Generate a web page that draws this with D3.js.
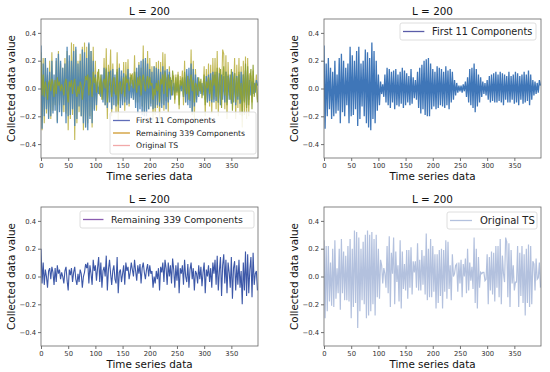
<!DOCTYPE html>
<html><head><meta charset="utf-8">
<script src="https://cdn.jsdelivr.net/npm/d3@7"></script>
<style>
html,body{margin:0;padding:0;background:#fff;}
svg{display:block;font-family:"DejaVu Sans",sans-serif;}
</style></head>
<body><svg id="c" width="550" height="372"></svg>
<script>
// ---- data (sampled every 2 time steps, t = 0..398) ----
const timePoints = d3.range(0, 400, 2);
const xTicks = [0, 50, 100, 150, 200, 250, 300, 350];
const yTicks = [-0.4, -0.2, 0.0, 0.2, 0.4];
const titleText = "L = 200";
const seriesNames = ["First 11 Components", "Remaining 339 Components", "Original TS"];

const first11 = [
 0.31,-0.29,0.18,-0.2,0.22,-0.15,
 0.15,-0.22,0.12,-0.2,0.2,-0.18,0.1,-0.16,0.22,-0.25,
 0.25,-0.17,0.2,-0.2,0.15,-0.12,0.18,-0.25,0.3,-0.2,
 0.24,-0.19,0.2,-0.15,0.27,-0.27,0.3,-0.22,0.18,-0.13,
 0.2,-0.2,0.28,-0.25,0.26,-0.28,0.22,-0.3,0.33,-0.22,
 0.27,-0.25,0.2,-0.16,0.1,-0.12,0.05,-0.04,0.03,-0.06,
 0.1,-0.1,0.15,-0.12,0.14,-0.14,0.12,-0.1,0.13,-0.15,
 0.14,-0.12,0.1,-0.13,0.12,-0.11,0.15,-0.14,0.13,-0.12,
 0.11,-0.1,0.09,-0.12,0.14,-0.11,0.08,-0.07,0.06,-0.08,
 0.12,-0.14,0.15,-0.18,0.17,-0.15,0.2,-0.19,0.21,-0.2,
 0.22,-0.2,0.18,-0.15,0.14,-0.13,0.12,-0.15,0.16,-0.14,
 0.15,-0.12,0.14,-0.13,0.12,-0.14,0.16,-0.12,0.13,-0.15,
 0.14,-0.1,0.12,-0.08,0.06,-0.05,0.04,-0.03,0.02,-0.02,
 0.02,-0.03,0.03,-0.02,0.05,-0.06,0.08,-0.1,0.14,-0.12,
 0.15,-0.14,0.18,-0.17,0.14,-0.13,0.1,-0.1,0.08,-0.06,
 0.05,-0.04,0.04,-0.05,0.06,-0.08,0.09,-0.1,0.1,-0.09,
 0.11,-0.1,0.12,-0.1,0.1,-0.09,0.12,-0.1,0.11,-0.12,
 0.1,-0.08,0.09,-0.1,0.12,-0.1,0.09,-0.08,0.1,-0.11,
 0.12,-0.1,0.11,-0.12,0.09,-0.08,0.1,-0.11,0.12,-0.1,
 0.1,-0.09,0.13,-0.12,0.1,-0.08,0.06,-0.05,0.05,-0.04,
 0.04,-0.03,0.06,0.02
];

const remaining339 = [
 0.2,-0.05,0.1,-0.06,0.05,0.0,-0.08,0.04,0.06,-0.02,
 0.07,0.03,-0.06,0.06,-0.04,0.08,0.02,0.05,-0.02,0.03,
 0.0,-0.05,0.04,0.07,-0.03,-0.1,0.05,0.01,0.06,-0.04,
 0.03,0.07,-0.02,-0.06,0.02,-0.04,0.05,0.02,-0.08,0.0,
 0.03,0.09,0.06,0.1,-0.05,0.08,0.02,-0.06,0.12,0.04,
 0.08,-0.03,0.06,0.14,-0.04,0.1,-0.08,0.04,0.07,0.0,
 0.15,-0.1,0.05,0.12,0.02,-0.06,0.04,0.08,-0.02,-0.05,
 0.14,-0.12,0.03,0.05,-0.04,0.02,0.08,-0.06,0.1,0.04,
 0.07,-0.02,0.03,0.1,0.05,0.0,0.12,0.04,-0.03,0.08,
 0.02,0.09,-0.05,0.06,0.1,0.03,-0.02,0.05,0.09,0.0,
 0.08,0.02,0.04,-0.08,0.0,-0.05,0.04,-0.02,0.06,-0.1,
 0.07,0.03,0.1,-0.04,0.12,0.06,-0.06,0.1,0.0,0.08,
 -0.05,0.13,0.05,-0.08,0.08,-0.03,0.1,-0.12,0.06,0.02,
 0.08,-0.06,0.12,0.0,-0.04,0.09,-0.08,0.05,0.1,-0.02,
 0.06,-0.1,0.04,0.02,-0.05,0.08,-0.02,0.07,-0.07,0.03,
 0.1,-0.12,0.05,0.0,0.08,-0.04,0.06,-0.08,0.1,0.02,
 0.12,-0.06,0.15,-0.1,0.04,0.14,-0.14,0.08,0.16,-0.05,
 0.12,-0.12,0.1,0.03,-0.08,0.14,-0.16,0.06,0.11,-0.1,
 0.08,-0.06,0.12,-0.08,0.04,-0.2,0.1,-0.1,0.18,-0.14,
 0.16,-0.12,0.05,0.14,-0.15,0.17,-0.06,0.02,0.04,-0.1
];

const originalTS = [
 0.26,-0.3,0.22,-0.25,0.22,-0.18,
 0.1,-0.21,0.2,-0.22,0.26,-0.16,0.06,-0.12,0.2,-0.24,
 0.27,-0.12,0.18,-0.17,0.15,-0.17,0.22,-0.18,0.27,-0.3,
 0.2,-0.22,0.33,-0.19,0.32,-0.37,0.28,-0.25,0.2,-0.17,
 0.25,-0.2,0.3,-0.3,0.33,-0.28,0.3,-0.25,0.32,-0.2,
 0.27,-0.28,0.3,-0.15,0.2,-0.16,0.12,0.08,-0.05,0.06,
 0.02,-0.08,0.22,-0.12,0.29,-0.22,0.17,0.02,0.28,-0.2,
 0.18,-0.04,0.08,-0.18,0.26,-0.23,0.18,-0.09,0.09,-0.1,
 0.19,-0.16,0.19,-0.08,0.21,-0.13,0.11,0.03,0.11,-0.08,
 0.24,-0.1,0.12,-0.1,0.19,-0.06,0.15,-0.13,0.31,-0.17,
 0.2,-0.15,0.27,-0.15,0.22,-0.11,0.16,-0.23,0.16,-0.19,
 0.19,-0.14,0.2,-0.23,0.19,-0.11,0.26,-0.16,0.25,-0.09,
 0.08,-0.17,0.16,0.0,0.02,0.08,0.09,-0.11,0.1,-0.05,
 0.12,-0.15,0.09,0.0,0.13,-0.12,0.2,-0.1,0.1,-0.03,
 0.07,-0.09,0.28,-0.19,0.2,-0.23,0.14,-0.08,0.03,0.02,
 0.03,0.03,-0.03,-0.02,0.16,-0.2,0.14,-0.1,0.18,-0.13,
 0.17,-0.18,0.22,-0.08,0.22,-0.15,0.27,-0.2,0.15,0.02,
 -0.04,0.28,0.25,-0.15,0.24,-0.22,0.19,-0.05,0.08,-0.1,
 -0.04,-0.04,0.22,-0.22,0.17,-0.14,0.22,-0.19,0.16,-0.28,
 0.2,-0.19,0.23,-0.22,0.22,-0.2,0.11,0.09,-0.1,0.13,
 -0.02,-0.01,0.1,-0.08
];

// ---- layout ----
const svg = d3.select("#c");
const panels = [
  {x0:41, x1:258, y0:19, y1:158,
   layers:[{d:originalTS, c:"#b8ae3c", o:0.85, w:1.1},{d:first11, c:"#4a84b4", o:0.9, w:1.3},{d:remaining339, c:"#8fa235", o:0.95, w:1.1}],
   legend:{x:110, y:112, w:146, h:42, fs:7.7, rowH:12.5, items:[[seriesNames[0],"#5f6db8"],[seriesNames[1],"#cf9a2e"],[seriesNames[2],"#f2a8a8"]]}},
  {x0:324, x1:541, y0:19, y1:158,
   layers:[{d:first11, c:"#3f76b8", o:1, w:1.3}],
   legend:{x:400, y:23, w:136, h:17, fs:9.7, rowH:0, items:[[seriesNames[0],"#5a5ca8"]]}},
  {x0:41, x1:258, y0:207, y1:346,
   layers:[{d:remaining339, c:"#3d58a8", o:1, w:1.1}],
   legend:{x:80, y:211, w:174, h:17, fs:9.3, rowH:0, items:[[seriesNames[1],"#8a5cb0"]]}},
  {x0:324, x1:541, y0:207, y1:346,
   layers:[{d:originalTS, c:"#b3c1de", o:1, w:1.2}],
   legend:{x:447, y:212, w:90, h:17, fs:10, rowH:0, items:[[seriesNames[2],"#b3c1de"]]}}
];

const fmt = v => (v < 0 ? "\u2212" : "") + Math.abs(v).toFixed(1);

panels.forEach(p => {
  const x = d3.scaleLinear().domain([0, 399]).range([p.x0, p.x1]);
  const y = d3.scaleLinear().domain([-0.5, 0.5]).range([p.y1, p.y0]);
  const g = svg.append("g");

  const clipId = "clip" + p.x0 + "_" + p.y0;
  g.append("clipPath").attr("id", clipId).append("rect")
    .attr("x", p.x0).attr("y", p.y0).attr("width", p.x1 - p.x0).attr("height", p.y1 - p.y0);

  const line = d3.line().x((d, i) => x(timePoints[i])).y(d => y(d));
  const lg = g.append("g").attr("clip-path", `url(#${clipId})`);
  p.layers.forEach(L => {
    lg.append("path").datum(L.d).attr("d", line)
      .attr("fill", "none").attr("stroke", L.c).attr("stroke-width", L.w)
      .attr("stroke-opacity", L.o).attr("stroke-linejoin", "miter");
  });

  // axes
  const xa = g.append("g").attr("transform", `translate(0,${p.y1})`)
    .call(d3.axisBottom(x).tickValues(xTicks).tickSize(3).tickPadding(2).tickFormat(d3.format("d")));
  const ya = g.append("g").attr("transform", `translate(${p.x0},0)`)
    .call(d3.axisLeft(y).tickValues(yTicks).tickSize(3).tickPadding(2).tickFormat(fmt));
  [xa, ya].forEach(a => {
    a.select(".domain").remove();
    a.selectAll("line").attr("stroke", "#333").attr("stroke-width", 0.7);
    a.selectAll("text").attr("font-size", 6.8).attr("fill", "#333").attr("font-family", "DejaVu Sans");
  });
  g.append("rect").attr("x", p.x0).attr("y", p.y0).attr("width", p.x1 - p.x0).attr("height", p.y1 - p.y0)
    .attr("fill", "none").attr("stroke", "#666").attr("stroke-width", 0.8);

  // title & labels
  const cx = (p.x0 + p.x1) / 2, cy = (p.y0 + p.y1) / 2;
  g.append("text").attr("x", cx).attr("y", p.y0 - 4).attr("text-anchor", "middle")
    .attr("font-size", 10.4).attr("fill", "#111").text(titleText);
  g.append("text").attr("x", cx).attr("y", p.y1 + 22).attr("text-anchor", "middle")
    .attr("font-size", 10.4).attr("fill", "#111").text("Time series data");
  g.append("text").attr("transform", `translate(${p.x0 - 26},${cy}) rotate(-90)`).attr("text-anchor", "middle")
    .attr("font-size", 10.4).attr("fill", "#111").text("Collected data value");

  // legend
  const L = p.legend;
  const lgd = g.append("g");
  lgd.append("rect").attr("x", L.x).attr("y", L.y).attr("width", L.w).attr("height", L.h)
    .attr("rx", 2).attr("fill", "#fff").attr("fill-opacity", 0.85).attr("stroke", "#d6d6d6").attr("stroke-width", 0.8);
  const n = L.items.length;
  L.items.forEach((it, i) => {
    const yy = n === 1 ? L.y + L.h / 2 : L.y + 8.5 + i * L.rowH;
    const lineLen = L.fs * 2.2;
    lgd.append("line").attr("x1", L.x + 3).attr("x2", L.x + 3 + lineLen).attr("y1", yy).attr("y2", yy)
      .attr("stroke", it[1]).attr("stroke-width", 1.3);
    lgd.append("text").attr("x", L.x + 3 + lineLen + L.fs * 0.8).attr("y", yy).attr("dy", "0.35em")
      .attr("font-size", L.fs).attr("fill", "#222").text(it[0]);
  });
});
</script></body></html>
